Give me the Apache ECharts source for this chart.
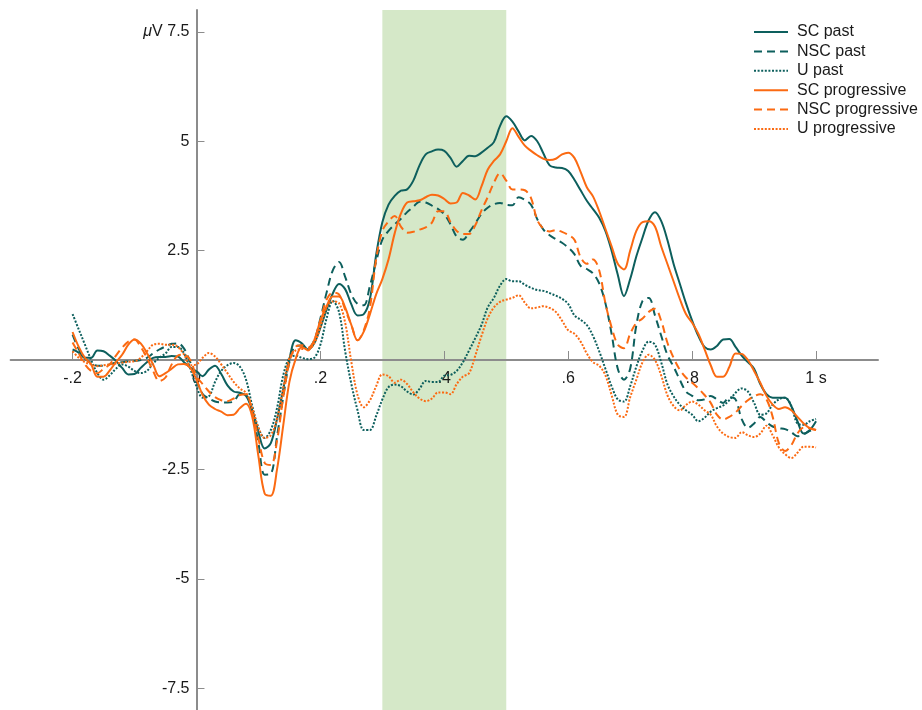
<!DOCTYPE html>
<html>
<head>
<meta charset="utf-8">
<script src="https://cdn.jsdelivr.net/npm/echarts@6/dist/echarts.min.js"></script>
<style>
  html, body { margin: 0; padding: 0; background: #fff; }
  #chart { width: 922px; height: 710px; }
</style>
</head>
<body>
<div id="chart"></div>
<script>
// Time axis (s), sampled every 10 ms from -0.2 to 1.0
const times = [];
for (let i = 0; i <= 120; i++) times.push(Math.round((-0.2 + i * 0.01) * 100) / 100);

// Grand-average ERP amplitudes (µV), one value per time point
const scPast = [
  0.24, 0.17, 0.05, 0.05, 0.22, 0.20, 0.10, -0.02, -0.18, -0.33,
  -0.32, -0.18, -0.05, 0.05, 0.07, 0.07, 0.09, 0.08, -0.05, -0.17,
  -0.26, -0.37, -0.22, -0.13, -0.32, -0.58, -0.72, -0.75, -0.82, -1.15,
  -1.65, -2.02, -1.90, -1.35, -0.67, 0.02, 0.45, 0.38, 0.24, 0.38,
  0.74, 1.15, 1.52, 1.74, 1.62, 1.27, 1.02, 1.05, 1.40, 2.40,
  3.15, 3.55, 3.75, 3.87, 3.90, 4.10, 4.45, 4.70, 4.77, 4.81,
  4.78, 4.62, 4.42, 4.55, 4.67, 4.66, 4.74, 4.85, 4.98, 5.35,
  5.57, 5.45, 5.22, 5.02, 5.12, 5.00, 4.72, 4.45, 4.40, 4.39,
  4.32, 4.12, 3.88, 3.64, 3.45, 3.25, 2.95, 2.50, 1.95, 1.46,
  1.85, 2.37, 2.80, 3.20, 3.38, 3.18, 2.75, 2.20, 1.75, 1.30,
  0.90, 0.55, 0.30, 0.24, 0.32, 0.47, 0.48, 0.30, 0.10, -0.05,
  -0.20, -0.55, -0.78, -0.86, -0.86, -0.86, -1.05, -1.40, -1.68, -1.60,
  -1.40
];
const nscPast = [
  0.58, 0.25, 0.03, -0.07, -0.13, -0.13, -0.10, -0.06, -0.05, -0.03,
  -0.02, 0.00, 0.05, 0.15, 0.24, 0.31, 0.37, 0.38, 0.26, -0.05,
  -0.45, -0.78, -0.88, -0.95, -0.97, -0.97, -0.95, -0.78, -0.80, -1.20,
  -1.90, -2.62, -2.60, -1.75, -0.85, -0.05, 0.32, 0.33, 0.28, 0.45,
  0.95, 1.54, 2.05, 2.24, 1.90, 1.50, 1.28, 1.25, 1.70, 2.25,
  2.75, 2.95, 3.10, 3.23, 3.38, 3.50, 3.62, 3.60, 3.53, 3.45,
  3.33, 3.10, 2.82, 2.75, 2.92, 3.12, 3.34, 3.48, 3.56, 3.59,
  3.55, 3.54, 3.72, 3.66, 3.55, 3.22, 2.98, 2.85, 2.76, 2.68,
  2.57, 2.42, 2.15, 2.08, 1.98, 1.75, 1.30, 0.60, -0.20, -0.45,
  -0.20, 0.80, 1.35, 1.42, 1.02, 0.56, 0.12, -0.15, -0.45, -0.72,
  -0.82, -0.92, -0.90, -0.82, -0.90, -0.98, -0.85, -0.90, -1.35, -1.55,
  -1.45, -1.30, -1.42, -1.52, -1.56, -1.58, -1.65, -1.74, -1.70, -1.62,
  -1.58
];
const uPast = [
  1.05, 0.70, 0.35, 0.00, -0.30, -0.45, -0.35, -0.20, -0.10, -0.15,
  -0.25, -0.30, -0.25, -0.08, 0.05, 0.15, 0.30, 0.30, 0.15, -0.20,
  -0.60, -0.86, -0.83, -0.50, -0.25, -0.12, -0.07, -0.15, -0.45, -1.05,
  -1.55, -1.78, -1.60, -1.10, -0.35, 0.05, 0.10, 0.05, 0.02, 0.05,
  0.35, 0.95, 1.35, 1.10, 0.20, -0.55, -1.15, -1.60, -1.60, -1.28,
  -0.90, -0.62, -0.56, -0.60, -0.72, -0.79, -0.66, -0.48, -0.50, -0.50,
  -0.36, -0.34, -0.25, -0.05, 0.22, 0.50, 0.80, 1.20, 1.42, 1.70,
  1.85, 1.80, 1.80, 1.72, 1.65, 1.60, 1.58, 1.53, 1.47, 1.40,
  1.28, 1.02, 0.92, 0.80, 0.55, 0.20, -0.20, -0.60, -0.90, -0.95,
  -0.60, -0.15, 0.22, 0.42, 0.35, -0.05, -0.55, -0.83, -1.02, -1.15,
  -1.25, -1.40, -1.32, -1.18, -1.10, -1.04, -0.92, -0.75, -0.65, -0.72,
  -0.98, -1.25, -1.22, -1.02, -0.90, -0.86, -1.05, -1.45, -1.48, -1.40,
  -1.35
];
const scProg = [
  0.64, 0.30, 0.05, -0.10, -0.38, -0.38, -0.24, -0.05, 0.12, 0.35,
  0.47, 0.38, 0.16, -0.10, -0.37, -0.30, -0.20, -0.10, -0.09, -0.18,
  -0.45, -0.80, -1.02, -1.12, -1.18, -1.26, -1.25, -1.10, -1.00, -1.30,
  -2.20, -3.05, -3.10, -2.50, -1.50, -0.50, 0.02, 0.30, 0.22, 0.45,
  0.90, 1.23, 1.45, 1.45, 1.20, 0.80, 0.45, 0.65, 1.05, 1.50,
  1.85, 2.30, 2.90, 3.35, 3.60, 3.63, 3.65, 3.72, 3.78, 3.76,
  3.68, 3.58, 3.60, 3.82, 3.76, 3.67, 3.97, 4.35, 4.55, 4.70,
  5.00, 5.30, 5.10, 4.90, 4.78, 4.68, 4.60, 4.57, 4.60, 4.70,
  4.74, 4.62, 4.30, 3.95, 3.74, 3.40, 3.00, 2.60, 2.20, 2.07,
  2.50, 2.95, 3.15, 3.17, 3.05, 2.60, 2.20, 1.80, 1.40, 1.05,
  0.85, 0.60, 0.25, -0.12, -0.38, -0.38, -0.16, 0.15, 0.14, 0.00,
  -0.25, -0.52, -0.82, -1.02, -1.12, -1.08, -1.15, -1.30, -1.45, -1.56,
  -1.60
];
const nscProg = [
  0.40, 0.15, -0.10, -0.25, -0.30, -0.20, -0.10, 0.10, 0.28, 0.42,
  0.47, 0.30, 0.05, -0.25, -0.48, -0.40, -0.10, 0.10, 0.12, 0.00,
  -0.37, -0.55, -0.72, -0.85, -0.92, -0.94, -0.88, -0.80, -0.78, -1.20,
  -1.80, -2.35, -2.40, -1.85, -0.85, -0.05, 0.30, 0.34, 0.28, 0.45,
  0.90, 1.38, 1.54, 1.50, 1.15, 0.80, 0.45, 0.68, 1.20, 2.30,
  2.95, 3.17, 3.29, 3.05, 2.91, 2.93, 2.98, 3.03, 3.14, 3.40,
  3.40, 3.15, 2.95, 2.88, 2.88, 3.08, 3.42, 3.72, 4.05, 4.27,
  4.10, 3.90, 3.90, 3.88, 3.70, 3.20, 3.00, 2.94, 2.97, 2.93,
  2.86, 2.75, 2.35, 2.20, 2.30, 2.05, 1.30, 0.75, 0.35, 0.27,
  0.60, 0.85, 0.95, 1.10, 1.17, 0.90, 0.40, 0.05, -0.22, -0.40,
  -0.52, -0.65, -0.80, -0.98, -1.25, -1.36, -1.30, -1.20, -1.05, -0.92,
  -0.83, -0.78, -0.90, -1.30, -1.90, -2.08, -1.95, -1.68, -1.55, -1.56,
  -1.60
];
const uProg = [
  0.20, 0.05, -0.05, -0.10, -0.14, -0.12, -0.10, -0.08, -0.06, -0.04,
  -0.03, 0.05, 0.20, 0.35, 0.37, 0.35, 0.35, 0.30, 0.12, -0.12,
  -0.10, 0.05, 0.16, 0.08, -0.10, -0.30, -0.50, -0.65, -0.75, -1.10,
  -1.55, -1.78, -1.72, -1.35, -0.65, 0.05, 0.22, 0.25, 0.25, 0.38,
  0.75, 1.20, 1.34, 1.30, 0.85, -0.05, -0.80, -1.08, -0.92, -0.60,
  -0.33, -0.37, -0.52, -0.45, -0.55, -0.74, -0.88, -0.94, -0.88, -0.74,
  -0.74, -0.78, -0.55, -0.38, -0.30, 0.10, 0.55, 0.95, 1.20, 1.33,
  1.38, 1.42, 1.48, 1.31, 1.18, 1.20, 1.23, 1.19, 1.10, 0.90,
  0.68, 0.60, 0.42, 0.15, -0.05, -0.13, -0.35, -0.80, -1.25, -1.30,
  -0.85, -0.45, -0.05, 0.12, 0.00, -0.35, -0.80, -1.05, -1.15, -1.03,
  -0.95, -1.02, -1.15, -1.25, -1.52, -1.68, -1.76, -1.78, -1.65, -1.72,
  -1.76, -1.68, -1.50, -1.72, -2.00, -2.15, -2.24, -2.12, -1.98, -1.98,
  -2.00
];

// Axis ticks and their labels
const xTicks = [-0.2, 0, 0.2, 0.4, 0.6, 0.8, 1.0];
const xTickLabels = ['-.2', '0', '.2', '.4', '.6', '.8', '1 s'];
const yTicks = [-7.5, -5, -2.5, 0, 2.5, 5, 7.5];
const yTickLabels = ['-7.5', '-5', '-2.5', '', '2.5', '5', '{mu|\u03bc}V 7.5'];

// Analysis window (s)
const windowRange = [0.3, 0.5];

const TEAL = '#0d5f5d';
const ORANGE = '#fb6a12';
const AXIS_GREY = '#8c8c8c';
const TEXT = '#1a1a1a';
const FONT = '"Liberation Sans", Arial, Helvetica, sans-serif';
const X_MIN = -0.3, X_MAX = 1.1, Y_MIN = -8, Y_MAX = 8;

// Plot area
const GRID = { left: 10.6, top: 10, width: 867.4, height: 700 };
// Shift the axes so they cross at the origin
const xAxisOffset = -GRID.height * (0 - Y_MIN) / (Y_MAX - Y_MIN);
const yAxisOffset = -GRID.width * (0 - X_MIN) / (X_MAX - X_MIN);

const seriesDefs = [
  { name: 'SC past', values: scPast, color: TEAL, type: 'solid' },
  { name: 'NSC past', values: nscPast, color: TEAL, type: [8, 5] },
  { name: 'U past', values: uPast, color: TEAL, type: [2, 1.6] },
  { name: 'SC progressive', values: scProg, color: ORANGE, type: 'solid' },
  { name: 'NSC progressive', values: nscProg, color: ORANGE, type: [8, 5] },
  { name: 'U progressive', values: uProg, color: ORANGE, type: [2, 1.6] }
];

function labelFor(ticks, labels, v) {
  const i = ticks.findIndex(t => Math.abs(t - v) < 1e-6);
  return i >= 0 ? labels[i] : '';
}

const chart = echarts.init(document.getElementById('chart'), null, { renderer: 'canvas' });

const lineSeries = seriesDefs.map(d => ({
  name: d.name,
  type: 'line',
  data: times.map((t, i) => [t, d.values[i]]),
  symbol: 'none',
  showSymbol: false,
  smooth: 0.35,
  z: 3,
  lineStyle: { color: d.color, width: 2, type: d.type, cap: 'butt' },
  itemStyle: { color: d.color },
  emphasis: { disabled: true },
  animation: false
}));

const option = {
  animation: false,
  textStyle: { fontFamily: FONT },
  grid: {
    left: GRID.left, top: GRID.top, width: GRID.width, height: GRID.height,
    containLabel: false,
    outerBoundsMode: 'none'
  },
  legend: {
    orient: 'vertical',
    left: 753,
    top: 24,
    padding: 0,
    itemWidth: 34,
    itemHeight: 14,
    itemGap: 3.4,
    data: seriesDefs.map(d => d.name),
    itemStyle: { opacity: 0 },
    textStyle: { fontSize: 16, color: TEXT, fontFamily: FONT, padding: [0, 0, 0, 4], lineHeight: 16 },
    selectedMode: false
  },
  xAxis: {
    type: 'value',
    min: X_MIN,
    max: X_MAX,
    position: 'bottom',
    offset: xAxisOffset,
    axisLine: { onZero: false, lineStyle: { color: AXIS_GREY, width: 2 } },
    axisTick: { show: true, inside: true, length: 9, customValues: xTicks, lineStyle: { color: AXIS_GREY, width: 1 } },
    axisLabel: {
      customValues: xTicks,
      margin: 11,
      fontSize: 16,
      color: TEXT,
      fontFamily: FONT,
      hideOverlap: false,
      showMinLabel: true,
      showMaxLabel: true,
      formatter: v => labelFor(xTicks, xTickLabels, v)
    },
    splitLine: { show: false }
  },
  yAxis: {
    type: 'value',
    min: Y_MIN,
    max: Y_MAX,
    position: 'left',
    offset: yAxisOffset,
    axisLine: { onZero: false, lineStyle: { color: AXIS_GREY, width: 2 } },
    axisTick: { show: true, inside: true, length: 8, customValues: yTicks, lineStyle: { color: AXIS_GREY, width: 1 } },
    axisLabel: {
      customValues: yTicks,
      margin: 7,
      fontSize: 16,
      color: TEXT,
      fontFamily: FONT,
      formatter: v => labelFor(yTicks, yTickLabels, v),
      rich: { mu: { fontStyle: 'italic', fontSize: 16, fontFamily: FONT, color: TEXT } }
    },
    splitLine: { show: false }
  },
  series: [
    {
      type: 'custom',
      name: 'window',
      z: -1,
      silent: true,
      data: [windowRange],
      encode: { x: [0, 1] },
      renderItem: (params, api) => {
        const a = api.coord([api.value(0), Y_MAX]);
        const b = api.coord([api.value(1), Y_MIN]);
        return {
          type: 'rect',
          shape: { x: a[0], y: a[1], width: b[0] - a[0], height: b[1] - a[1] },
          style: { fill: '#d5e8c8' }
        };
      }
    }
  ].concat(lineSeries)
};

chart.setOption(option);
</script>
</body>
</html>
